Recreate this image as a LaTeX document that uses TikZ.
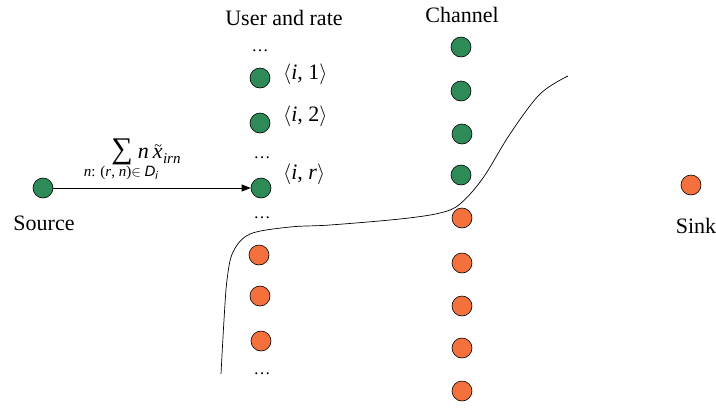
\documentclass[tikz,border=0pt]{standalone}
\usepackage{fontspec}
\setmainfont{Liberation Serif}
\setsansfont{Liberation Sans}
\usetikzlibrary{arrows.meta}
\definecolor{flowgreen}{HTML}{2E8B57}
\definecolor{floworange}{HTML}{F4703C}
\begin{document}
\begin{tikzpicture}[x=1pt,y=-1pt,
  every node/.style={font=\fontsize{22}{26}\selectfont},
  vtx/.style={circle, draw=black, line width=0.6pt, minimum size=20pt, inner sep=0pt},
  gvtx/.style={vtx, fill=flowgreen},
  ovtx/.style={vtx, fill=floworange},
  dotsnode/.style={inner sep=0pt, font=\fontsize{17}{17}\selectfont},
  ratelbl/.style={anchor=west, inner sep=0pt}]
\useasboundingbox (0,0) rectangle (716,408);

% column titles
\node (titleU) at (284,18) {User and rate};
\node (titleC) at (462,15) {Channel};

% source and sink
\node[gvtx] (src) at (43,188) {};
\node (srclbl) at (44,223) {Source};
\node[ovtx] (sink) at (691,185) {};
\node (sinklbl) at (696,226) {Sink};

% user-and-rate column
\node[dotsnode] (d1) at (260,51) {\ldots};
\node[gvtx] (u1) at (260,78) {};
\node[gvtx] (u2) at (260,123) {};
\node[dotsnode] (d2) at (262,158) {\ldots};
\node[gvtx] (ur) at (261,188) {};
\node[dotsnode] (d3) at (262,218) {\ldots};
\node[ovtx] (o1) at (259,255) {};
\node[ovtx] (o2) at (260,296) {};
\node[ovtx] (o3) at (261,341) {};
\node[dotsnode] (d4) at (262,374) {\ldots};

\node[ratelbl] (l1) at (283,74) {$\langle$\textit{i}, 1$\rangle$};
\node[ratelbl] (l2) at (283,116) {$\langle$\textit{i}, 2$\rangle$};
\node[ratelbl] (lr) at (283,174) {$\langle$\textit{i}, \textit{r}$\rangle$};

% channel column
\node[gvtx] (c1) at (461,47) {};
\node[gvtx] (c2) at (461,91) {};
\node[gvtx] (c3) at (462,134) {};
\node[gvtx] (c4) at (461,175) {};
\node[ovtx] (c5) at (462,218) {};
\node[ovtx] (c6) at (462,263) {};
\node[ovtx] (c7) at (462,306) {};
\node[ovtx] (c8) at (462,348) {};
\node[ovtx] (c9) at (462,391) {};

% flow from the source into user i at rate r
\draw[line width=0.8pt, -{Triangle[length=9pt,width=7pt]}] (src) -- (ur);
\node[inner sep=0pt] (sumlbl) at (146,152)
  {{\fontsize{30}{30}\selectfont ∑}\kern5pt\textit{n}\kern4pt\textit{x}\llap{\raisebox{8pt}{\fontsize{14}{14}\selectfont\textasciitilde}\kern0.5pt}\kern0.5pt\raisebox{-5pt}{\fontsize{15}{15}\selectfont\textit{irn}}};
\node[inner sep=0pt, font=\fontsize{15}{17}\selectfont] (sublbl) at (121,173)
  {\textit{n}: (\textit{r}, \textit{n})$\in$ \textsf{\textit{D}}\raisebox{-3pt}{\fontsize{11}{11}\selectfont\textsf{\textit{i}}}};

% cut separating the two sides
\draw[line width=0.7pt] plot[smooth, tension=0.55] coordinates {
  (221,374) (224,320) (227,280) (233,252) (250,234) (290,227)
  (330,225) (400,219) (440,213) (460,204) (483,178) (510,134)
  (540,94) (568,76)};
\end{tikzpicture}
\end{document}
